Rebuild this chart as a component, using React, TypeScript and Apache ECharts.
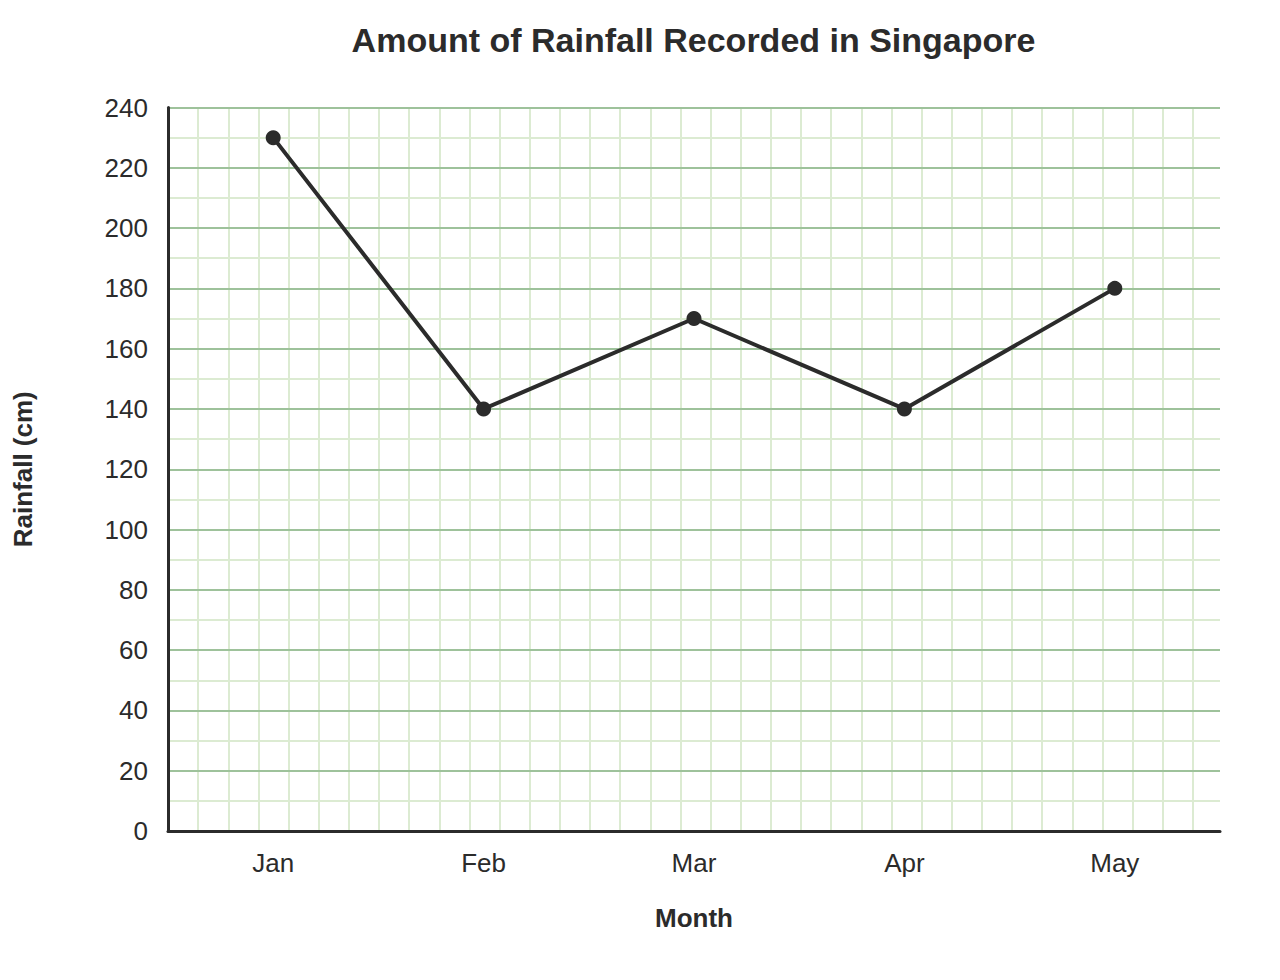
import React, { useEffect, useRef } from "react";
import * as echarts from "echarts";

const months = ["Jan", "Feb", "Mar", "Apr", "May"];
const rainfall = [230, 140, 170, 140, 180];
const yMin = 0;
const yMax = 240;
const yInterval = 20;

const FONT = "'Liberation Sans', Arial, sans-serif";
const DARK = "#2b2b2b";
const MAJOR = "#9ec29b";
const MINOR = "#dcebd2";

export default function App() {
  const ref = useRef<HTMLDivElement>(null);

  useEffect(() => {
    document.body.style.margin = "0";
    if (!ref.current) return;
    const chart = echarts.init(ref.current, undefined, { renderer: "svg" });
    const gridLeft = 168;
    const gridRight = 60;
    const gridTop = 107.5;
    const gridBottom = 149;
    const plotW = 1280 - gridLeft - gridRight;
    const plotH = 980 - gridTop - gridBottom;
    const minorPx = plotH / ((yMax - yMin) / 10);
    const hiddenMax = plotW / minorPx;

    chart.setOption({
      animation: false,
      backgroundColor: "#ffffff",
      title: {
        text: "Amount of Rainfall Recorded in Singapore",
        left: gridLeft + plotW / 2 - 5.5,
        textAlign: "center",
        top: 18,
        textStyle: {
          fontFamily: FONT,
          fontWeight: "bold",
          fontSize: 34,
          color: DARK,
        },
      },
      grid: {
        left: gridLeft,
        right: gridRight,
        top: gridTop,
        bottom: gridBottom,
        containLabel: false,
      },
      xAxis: [
        {
          type: "category",
          data: months,
          boundaryGap: true,
          z: 3,
          name: "Month",
          nameLocation: "middle",
          nameGap: 74,
          nameTextStyle: {
            fontFamily: FONT,
            fontWeight: "bold",
            fontSize: 26,
            color: DARK,
          },
          axisLine: { show: true, lineStyle: { color: DARK, width: 3 } },
          axisTick: { show: false },
          axisLabel: {
            margin: 19,
            fontFamily: FONT,
            fontSize: 26,
            color: DARK,
          },
          splitLine: { show: false },
        },
        {
          type: "value",
          min: 0,
          max: hiddenMax,
          interval: 1,
          z: 0,
          axisLine: { show: false },
          axisTick: { show: false },
          axisLabel: { show: false },
          splitLine: {
            show: true,
            showMinLine: false,
            showMaxLine: false,
            lineStyle: { color: MINOR, width: 2 },
          },
        },
      ],
      yAxis: {
        type: "value",
        min: yMin,
        max: yMax,
        interval: yInterval,
        z: 2,
        name: "Rainfall (cm)",
        nameLocation: "middle",
        nameGap: 132,
        nameRotate: 90,
        nameTextStyle: {
          fontFamily: FONT,
          fontWeight: "bold",
          fontSize: 26,
          color: DARK,
        },
        axisLine: { show: true, lineStyle: { color: DARK, width: 3 } },
        axisTick: { show: false },
        axisLabel: {
          margin: 20,
          fontFamily: FONT,
          fontSize: 26,
          color: DARK,
        },
        splitLine: {
          show: true,
          showMinLine: false,
          lineStyle: { color: MAJOR, width: 2 },
        },
        minorTick: { show: false, splitNumber: 2 },
        minorSplitLine: {
          show: true,
          lineStyle: { color: MINOR, width: 2 },
        },
      },
      series: [
        {
          type: "line",
          xAxisIndex: 0,
          yAxisIndex: 0,
          data: rainfall,
          z: 5,
          symbol: "circle",
          symbolSize: 15,
          lineStyle: { color: DARK, width: 4 },
          itemStyle: { color: DARK, borderWidth: 0 },
        },
      ],
    });
    return () => chart.dispose();
  }, []);

  return <div ref={ref} style={{ width: 1280, height: 980 }} />;
}
